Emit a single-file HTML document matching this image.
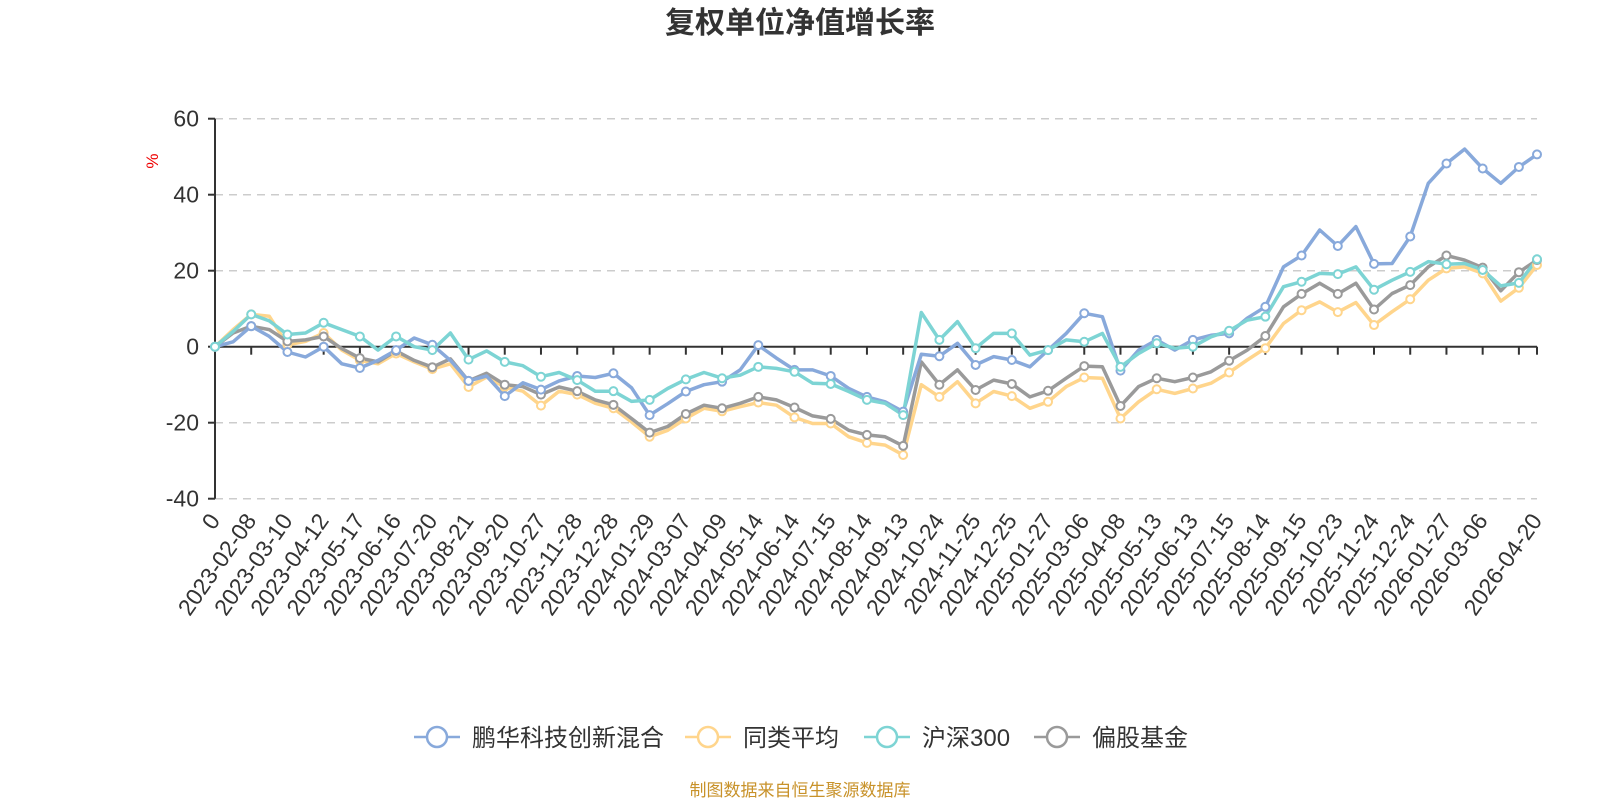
<!DOCTYPE html>
<html><head><meta charset="utf-8"><style>
html,body{margin:0;padding:0;background:#fff;}
svg{display:block;font-family:"Liberation Sans","Noto Sans CJK SC",sans-serif;}
</style></head><body>
<svg id="chart" width="1600" height="800" viewBox="0 0 1600 800" xmlns="http://www.w3.org/2000/svg">
<text x="800" y="33" text-anchor="middle" font-size="30" font-weight="bold" fill="#333">复权单位净值增长率</text>
<text x="0" y="0" transform="translate(158,161) rotate(-90)" text-anchor="middle" font-size="17" fill="#e00">%</text>
<g id="grid"></g>
<g id="axes"></g>
<g id="series"></g>
<g id="legend"></g>
<text x="800" y="796" text-anchor="middle" font-size="17" fill="#c8922a">制图数据来自恒生聚源数据库</text>
</svg>
<script>
const tickLabels = ["0","2023-02-08","2023-03-10","2023-04-12","2023-05-17","2023-06-16","2023-07-20","2023-08-21","2023-09-20","2023-10-27","2023-11-28","2023-12-28","2024-01-29","2024-03-07","2024-04-09","2024-05-14","2024-06-14","2024-07-15","2024-08-14","2024-09-13","2024-10-24","2024-11-25","2024-12-25","2025-01-27","2025-03-06","2025-04-08","2025-05-13","2025-06-13","2025-07-15","2025-08-14","2025-09-15","2025-10-23","2025-11-24","2025-12-24","2026-01-27","2026-03-06","2026-04-20"];
const yTicks = [60,40,20,0,-20,-40];
const seriesNames = ["鹏华科技创新混合","同类平均","沪深300","偏股基金"];
const fundValues = [0,1.3,5.4,2.7,-1.4,-2.7,0,-4.5,-5.6,-3.6,-0.9,2.3,0.5,-3.6,-9,-7.7,-13,-9.5,-11.3,-9,-7.7,-8.1,-7,-10.8,-18,-15,-11.8,-10,-9.2,-6.1,0.4,-3,-6.1,-6.1,-7.7,-11,-13.2,-14.5,-17.1,-2,-2.5,0.9,-4.8,-2.6,-3.5,-5.3,-0.9,3.5,8.8,7.9,-6.3,-0.9,1.8,-0.9,1.8,3,3.5,7.5,10.5,21,24,30.7,26.5,31.6,21.8,21.9,29,43,48.2,52,46.9,43,47.3,50.6];
const peerValues = [0,4.5,8.5,8,0.5,1.4,3.6,-0.9,-3.6,-4.5,-1.8,-4,-5.9,-4.5,-10.6,-8,-10.6,-11.7,-15.5,-11.7,-12.6,-14.9,-16.2,-19.8,-23.7,-22,-18.9,-16.2,-17,-15.8,-14.7,-15.4,-18.6,-20.2,-20.2,-23.7,-25.3,-25.9,-28.5,-10,-13.2,-9.2,-14.9,-11.8,-13,-16.2,-14.5,-10.5,-8.1,-8.3,-18.9,-14.5,-11.2,-12.3,-11,-9.6,-6.8,-3.5,-0.4,6.1,9.6,11.8,9.1,11.6,5.7,9.2,12.5,17.5,20.6,21,19.3,12,15.5,21.5];
const indexValues = [0,4,8.5,6.8,3.2,3.6,6.3,4.5,2.7,-0.9,2.7,0,-0.9,3.6,-3.4,-1.1,-4,-5,-7.9,-6.8,-8.8,-11.7,-11.7,-14.4,-14,-11,-8.6,-6.8,-8.3,-7.5,-5.3,-5.7,-6.6,-9.6,-9.8,-11.8,-14,-14.9,-18,9,1.8,6.6,-0.4,3.5,3.5,-2.2,-0.9,1.8,1.3,3.5,-5.3,-1.8,0.9,-0.4,0,2.6,4.2,7,7.9,15.8,17.1,19.3,19.1,21,15,17.5,19.7,22.4,21.7,21.9,20.2,16,16.8,23];
const styleValues = [0,3.6,5.4,4.5,1.4,1.8,2.7,-0.5,-3,-4,-1.1,-3.6,-5.4,-3.2,-9,-7,-10,-10.5,-12.6,-10.6,-11.7,-14,-15.3,-18.9,-22.6,-21,-17.7,-15.4,-16.2,-14.9,-13.2,-14,-16,-18.2,-19,-22,-23.2,-23.7,-26.1,-4,-10,-6.1,-11.4,-8.8,-9.8,-13.2,-11.6,-8.3,-5.1,-5.3,-15.6,-10.5,-8.3,-9.2,-8.1,-6.6,-3.7,-0.9,2.8,10.5,13.9,16.7,13.9,16.7,9.8,14,16.2,21,24,22.8,20.8,14.7,19.6,22.8];
const allSeries = [fundValues, peerValues, indexValues, styleValues];
const colors = ["#88a9db","#ffd58c","#7dd4d4","#9a9a9a"];
const drawOrder = [1,3,0,2];

const NS = "http://www.w3.org/2000/svg";
const X0 = 215, X1 = 1537, Y60 = 118.7, Yneg40 = 498.7;
const N = fundValues.length;
function xAt(i){ return X0 + (X1 - X0) * i / (N - 1); }
function yAt(v){ return Y60 + (60 - v) * (Yneg40 - Y60) / 100; }
function mk(tag, attrs, parent){ const e = document.createElementNS(NS, tag); for (const k in attrs) e.setAttribute(k, attrs[k]); parent.appendChild(e); return e; }

const grid = document.getElementById('grid');
const axes = document.getElementById('axes');
yTicks.forEach(t => {
  const y = yAt(t);
  if (t !== 0) {
    const gl = mk('line', {x1:X0, x2:X1, y1:y, y2:y, stroke:'#ccc', 'stroke-width':1.5, 'stroke-dasharray':'8,6'}, grid);
    
    
  }
  const tk = mk('line', {x1:X0-7, x2:X0, y1:y, y2:y, stroke:'#333', 'stroke-width':2}, axes);
  
  
  const lb = mk('text', {x:X0-16, y:y+8, 'text-anchor':'end', 'font-size':23, fill:'#333'}, axes);
  lb.textContent = t;
  
  
});
const ya = mk('line', {x1:X0, x2:X0, y1:Y60, y2:Yneg40, stroke:'#333', 'stroke-width':2}, axes);


const xa = mk('line', {x1:X0, x2:X1, y1:yAt(0), y2:yAt(0), stroke:'#333', 'stroke-width':2}, axes);


const tickStep = (X1 - X0) * 2 / (N - 1);
const tickXs = [];
for (let k = 0; X0 + k * tickStep <= X1 + 1; k++) tickXs.push(X0 + k * tickStep);
tickXs.push(X1);
tickXs.forEach(x => {
  const t = mk('line', {x1:x, x2:x, y1:yAt(0), y2:yAt(0)+8, stroke:'#333', 'stroke-width':2}, axes);
  
  
});
tickLabels.forEach((s, k) => {
  const x = (k === tickLabels.length - 1) ? X1 : X0 + k * tickStep;
  const t = mk('text', {transform:`translate(${x+6},${yAt(-40)+22}) rotate(-55)`, 'text-anchor':'end', 'font-size':23, fill:'#333'}, axes);
  t.textContent = s;
  
  
});

const sg = document.getElementById('series');
drawOrder.forEach(si => {
  const vals = allSeries[si];
  const d = vals.map((v, i) => (i ? 'L' : 'M') + xAt(i).toFixed(1) + ',' + yAt(v).toFixed(1)).join('');
  const p = mk('path', {d:d, fill:'none', stroke:colors[si], 'stroke-width':3.5, 'stroke-linejoin':'round'}, sg);
  
  
});
drawOrder.forEach(si => {
  const vals = allSeries[si];
  vals.forEach((v, i) => {
    if (i % 2 !== 0 && i !== N - 1) return;
    const c = mk('circle', {cx:xAt(i), cy:yAt(v), r:4, fill:'#fff', stroke:colors[si], 'stroke-width':2}, sg);
    
    
  });
});

const lg = document.getElementById('legend');
const legendX = [414, 685, 864, 1034];
seriesNames.forEach((nm, si) => {
  const g = mk('g', {}, lg);
  
  
  const x = legendX[si], y = 737;
  mk('line', {x1:x, x2:x+46, y1:y, y2:y, stroke:colors[si], 'stroke-width':2.5}, g);
  mk('circle', {cx:x+23, cy:y, r:10, fill:'#fff', stroke:colors[si], 'stroke-width':2.5}, g);
  const t = mk('text', {x:x+58, y:y+9, 'font-size':24, fill:'#333'}, g);
  t.textContent = nm;
});
</script>
</body></html>
